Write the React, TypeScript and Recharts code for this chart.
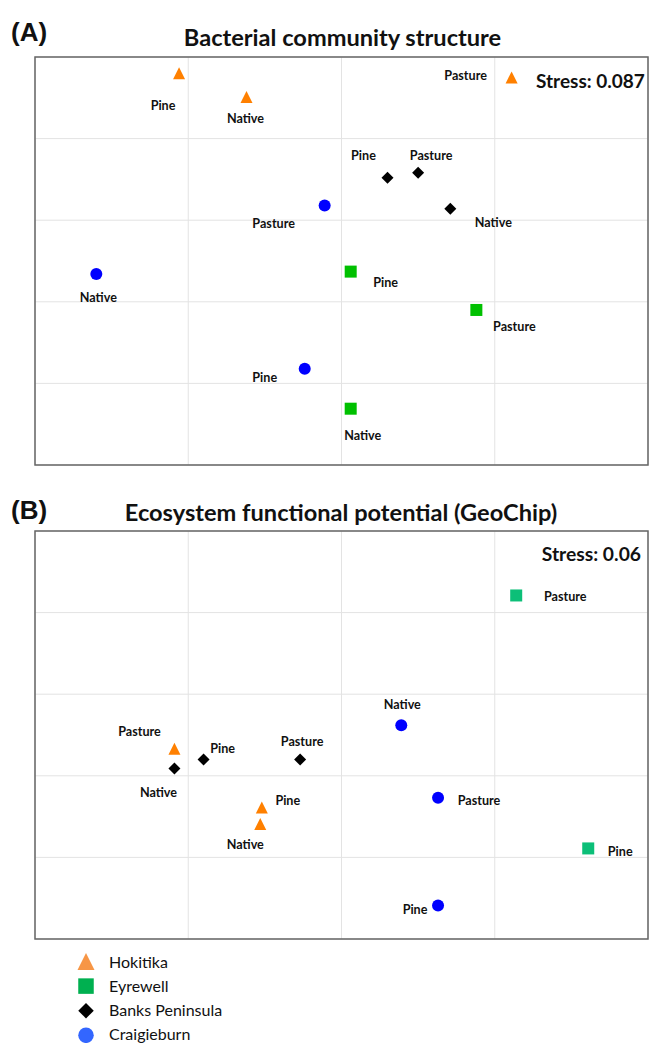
import React from "react"
import { CartesianGrid, ReferenceArea, Scatter, ScatterChart, XAxis, YAxis } from "recharts"

// NMDS ordination, plotted in grid units (x: 0–4, y: 0–5)
const X_TICKS = [0, 1, 2, 3, 4]
const Y_TICKS = [0, 1, 2, 3, 4, 5]

// (A) Bacterial community structure
const hokitikaA = [
  { site: "Pine", x: 0.94, y: 4.8 },
  { site: "Native", x: 1.38, y: 4.51 },
  { site: "Pasture", x: 3.11, y: 4.75 },
]
const eyrewellA = [
  { site: "Pine", x: 2.06, y: 2.37 },
  { site: "Pasture", x: 2.88, y: 1.9 },
  { site: "Native", x: 2.06, y: 0.69 },
]
const banksA = [
  { site: "Pine", x: 2.3, y: 3.52 },
  { site: "Pasture", x: 2.5, y: 3.58 },
  { site: "Native", x: 2.71, y: 3.14 },
]
const craigieburnA = [
  { site: "Pasture", x: 1.89, y: 3.18 },
  { site: "Native", x: 0.4, y: 2.34 },
  { site: "Pine", x: 1.76, y: 1.18 },
]

// (B) Ecosystem functional potential (GeoChip)
const hokitikaB = [
  { site: "Pasture", x: 0.91, y: 2.33 },
  { site: "Pine", x: 1.48, y: 1.61 },
  { site: "Native", x: 1.47, y: 1.41 },
]
const eyrewellB = [
  { site: "Pasture", x: 3.14, y: 4.21 },
  { site: "Pine", x: 3.61, y: 1.11 },
]
const banksB = [
  { site: "Native", x: 0.91, y: 2.09 },
  { site: "Pine", x: 1.1, y: 2.2 },
  { site: "Pasture", x: 1.73, y: 2.2 },
]
const craigieburnB = [
  { site: "Native", x: 2.39, y: 2.62 },
  { site: "Pasture", x: 2.63, y: 1.73 },
  { site: "Pine", x: 2.63, y: 0.41 },
]

const LEGEND = ["Hokitika", "Eyrewell", "Banks Peninsula", "Craigieburn"]

// where each site label sits relative to its marker (px)
const labelOffsetsA: Record<string, [number, number]> = {
  "Hokitika/Pine": [-16, 32],
  "Hokitika/Native": [-1, 21],
  "Hokitika/Pasture": [-46, -2],
  "Eyrewell/Pine": [35, 11],
  "Eyrewell/Pasture": [38, 17],
  "Eyrewell/Native": [12, 27],
  "Banks/Pine": [-24, -22],
  "Banks/Pasture": [13, -17],
  "Banks/Native": [43, 14],
  "Craigieburn/Pasture": [-51, 18],
  "Craigieburn/Native": [2, 23],
  "Craigieburn/Pine": [-40, 9],
}
const labelOffsetsB: Record<string, [number, number]> = {
  "Hokitika/Pasture": [-35, -17],
  "Hokitika/Pine": [26, -7],
  "Hokitika/Native": [-15, 21],
  "Eyrewell/Pasture": [49, 1],
  "Eyrewell/Pine": [32, 3],
  "Banks/Native": [-16, 24],
  "Banks/Pine": [19, -11],
  "Banks/Pasture": [2, -18],
  "Craigieburn/Native": [1, -21],
  "Craigieburn/Pasture": [41, 3],
  "Craigieburn/Pine": [-23, 4],
}

const FONT = "Lato, 'Open Sans', sans-serif"
const LABEL_SIZE = 12.6

type Kind = "triangle" | "square" | "diamond" | "circle"

function Marker({ kind, cx, cy, color, s }: { kind: Kind; cx: number; cy: number; color: string; s: number }) {
  const h = s / 2
  if (kind === "triangle")
    return <polygon points={`${cx},${cy - h} ${cx + h},${cy + h} ${cx - h},${cy + h}`} fill={color} />
  if (kind === "square") return <rect x={cx - h} y={cy - h} width={s} height={s} fill={color} />
  if (kind === "diamond")
    return <polygon points={`${cx},${cy - h} ${cx + h},${cy} ${cx},${cy + h} ${cx - h},${cy}`} fill={color} />
  return <circle cx={cx} cy={cy} r={h} fill={color} />
}

function makeShape(kind: Kind, color: string, group: string, offsets: Record<string, [number, number]>, size: number) {
  return (props: any) => {
    const { cx, cy, payload } = props
    const [dx, dy] = offsets[`${group}/${payload.site}`] ?? [0, 16]
    return (
      <g>
        <Marker kind={kind} cx={cx} cy={cy} color={color} s={size} />
        <text
          x={cx + dx}
          y={cy + dy + LABEL_SIZE * 0.36}
          textAnchor="middle"
          fontFamily={FONT}
          fontWeight={700}
          fontSize={LABEL_SIZE}
          fill="#111"
        >
          {payload.site}
        </text>
      </g>
    )
  }
}

type SeriesDef = { name: string; group: string; kind: Kind; color: string; data: { site: string; x: number; y: number }[] }

function Panel({ series, offsets }: { series: SeriesDef[]; offsets: Record<string, [number, number]> }) {
  return (
    <ScatterChart width={649} height={470} margin={{ top: 57, right: 1, bottom: 5, left: 35 }}>
      <CartesianGrid stroke="#e3e3e3" strokeWidth={1} />
      <XAxis type="number" dataKey="x" domain={[0, 4]} ticks={X_TICKS} hide />
      <YAxis type="number" dataKey="y" domain={[0, 5]} ticks={Y_TICKS} hide />
      <ReferenceArea x1={0} x2={4} y1={0} y2={5} fill="none" stroke="#666" strokeWidth={1.5} />
      {series.map((s) => (
        <Scatter
          key={s.name}
          name={s.name}
          data={s.data}
          shape={makeShape(s.kind, s.color, s.group, offsets, 12)}
          isAnimationActive={false}
        />
      ))}
    </ScatterChart>
  )
}

const seriesA: SeriesDef[] = [
  { name: "Hokitika", group: "Hokitika", kind: "triangle", color: "#ff8000", data: hokitikaA },
  { name: "Eyrewell", group: "Eyrewell", kind: "square", color: "#00c000", data: eyrewellA },
  { name: "Banks Peninsula", group: "Banks", kind: "diamond", color: "#000", data: banksA },
  { name: "Craigieburn", group: "Craigieburn", kind: "circle", color: "#0000ff", data: craigieburnA },
]
const seriesB: SeriesDef[] = [
  { name: "Hokitika", group: "Hokitika", kind: "triangle", color: "#ff8000", data: hokitikaB },
  { name: "Eyrewell", group: "Eyrewell", kind: "square", color: "#0cbf78", data: eyrewellB },
  { name: "Banks Peninsula", group: "Banks", kind: "diamond", color: "#000", data: banksB },
  { name: "Craigieburn", group: "Craigieburn", kind: "circle", color: "#0000ff", data: craigieburnB },
]

const legendKinds: Kind[] = ["triangle", "square", "diamond", "circle"]
const legendColors = ["#f79646", "#00b050", "#000", "#3366ff"]

export default function App() {
  return (
    <div style={{ position: "absolute", left: 0, top: 0, width: 649, height: 1043, background: "#fff" }}>
      <div style={{ position: "absolute", left: 0, top: 0 }}>
        <Panel series={seriesA} offsets={labelOffsetsA} />
      </div>
      <div style={{ position: "absolute", left: 0, top: 474 }}>
        <Panel series={seriesB} offsets={labelOffsetsB} />
      </div>
      <svg width={649} height={1043} style={{ position: "absolute", left: 0, top: 0, pointerEvents: "none" }}>
        <text x={11} y={41} fontFamily="'Liberation Sans', Arial, sans-serif" fontWeight={700} fontSize={26} fill="#111">
          (A)
        </text>
        <text x={342.5} y={45.5} textAnchor="middle" fontFamily={FONT} fontWeight={700} fontSize={23.6} fill="#111">
          Bacterial community structure
        </text>
        <text x={536} y={88} fontFamily={FONT} fontWeight={700} fontSize={19} fill="#111">
          Stress: 0.087
        </text>

        <text x={11} y={519} fontFamily="'Liberation Sans', Arial, sans-serif" fontWeight={700} fontSize={26} fill="#111">
          (B)
        </text>
        <text x={341} y={521} textAnchor="middle" fontFamily={FONT} fontWeight={700} fontSize={23.6} fill="#111">
          Ecosystem functional potential (GeoChip)
        </text>
        <text x={641} y={561} textAnchor="end" fontFamily={FONT} fontWeight={700} fontSize={19.3} fill="#111">
          Stress: 0.06
        </text>

        {LEGEND.map((name, i) => (
          <g key={name}>
            <Marker kind={legendKinds[i]} cx={86} cy={961.5 + i * 24.6} color={legendColors[i]} s={i === 0 ? 17 : 15.5} />
            <text x={109} y={968.3 + i * 23.9} fontFamily={FONT} fontSize={16} fill="#111">
              {name}
            </text>
          </g>
        ))}
      </svg>
    </div>
  )
}
